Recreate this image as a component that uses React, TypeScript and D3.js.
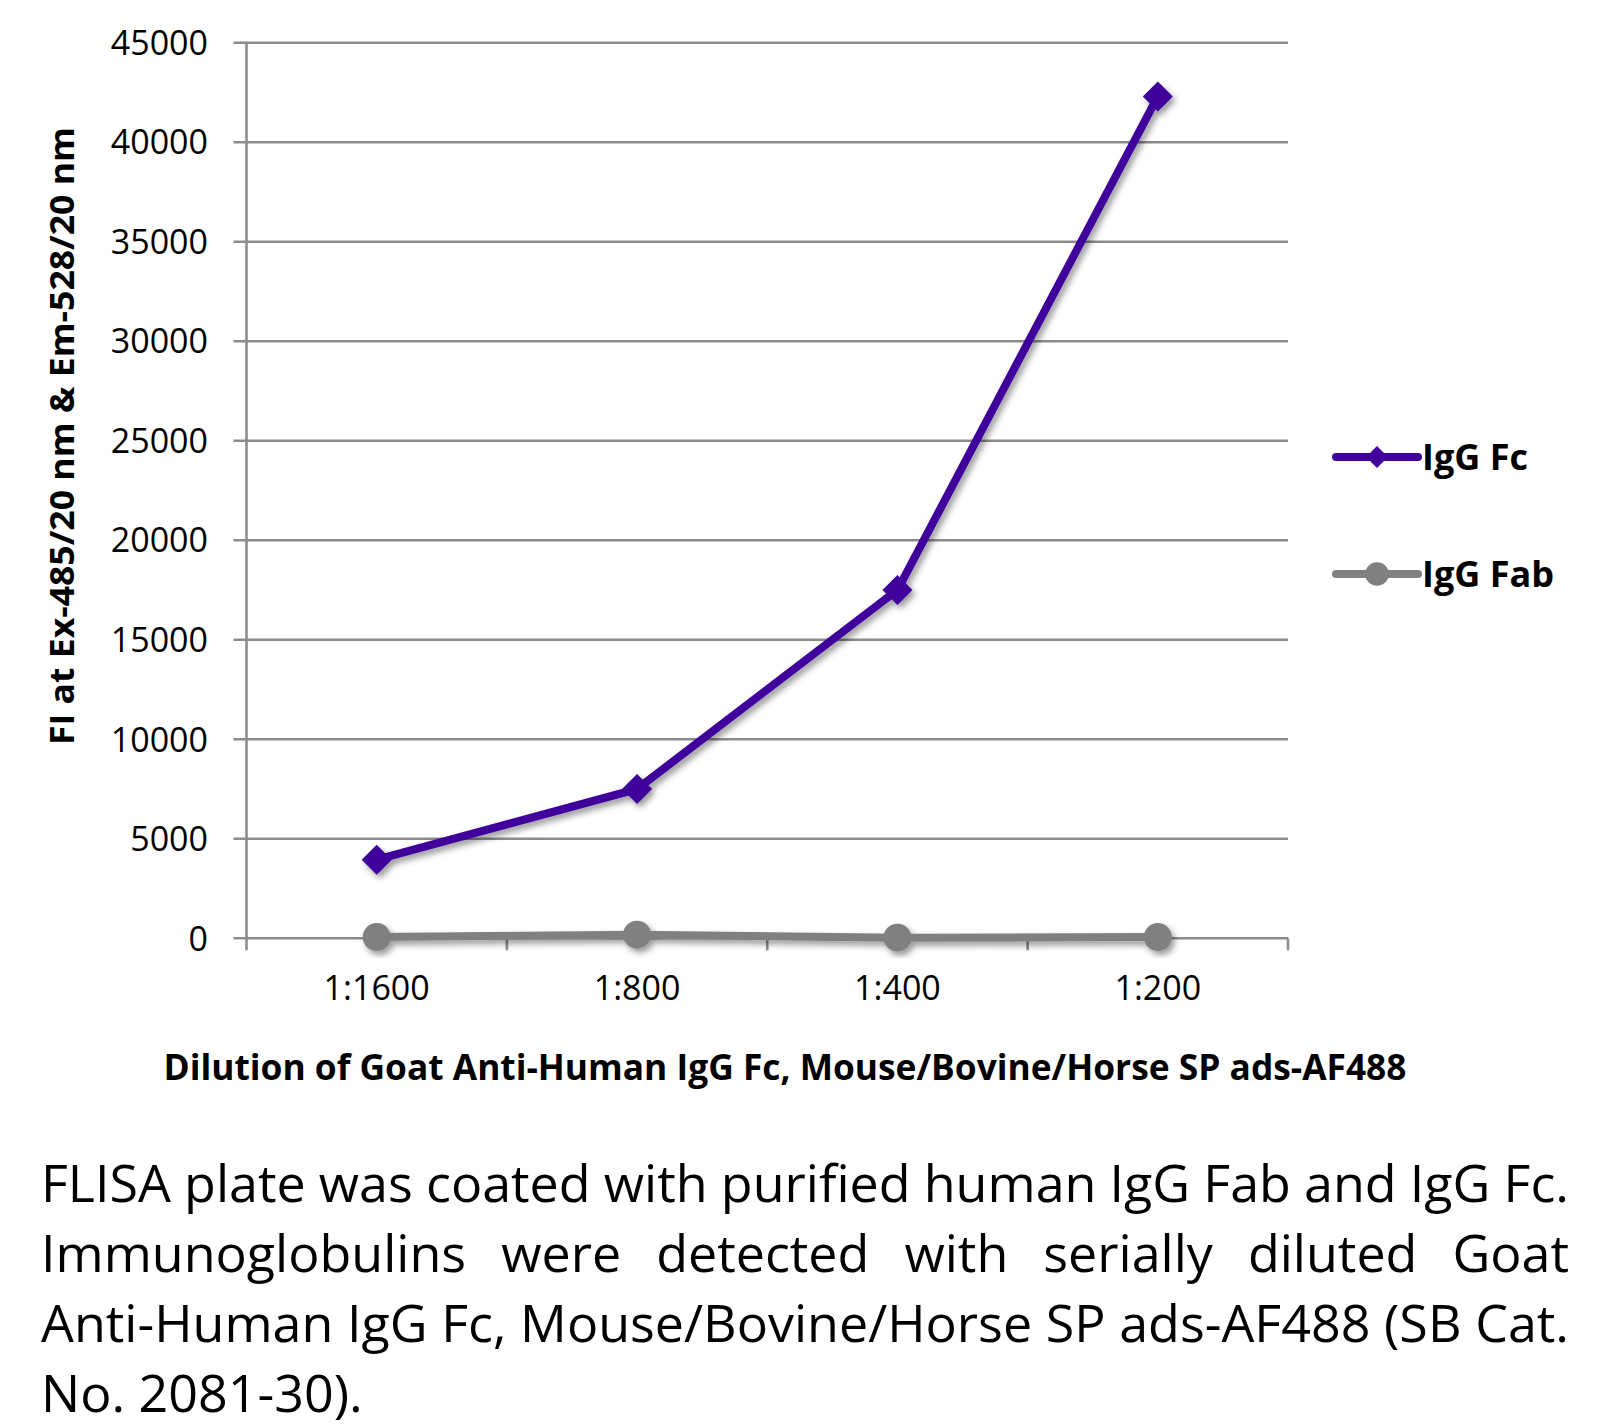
import * as d3 from "d3";
import React, { useEffect, useRef } from "react";

const width = 1608;
const height = 1428;

// chart data
const dilutions = ["1:1600", "1:800", "1:400", "1:200"];
const igGFc = [3950, 7500, 17500, 42300];
const igGFab = [60, 180, 30, 60];
const seriesNames = ["IgG Fc", "IgG Fab"];
const seriesColors = ["#41009c", "#808080"];
const yTicks = [0, 5000, 10000, 15000, 20000, 25000, 30000, 35000, 40000, 45000];

const yTitle = "FI at Ex-485/20 nm & Em-528/20 nm";
const xTitle = "Dilution of Goat Anti-Human IgG Fc, Mouse/Bovine/Horse SP ads-AF488";
const captionLines = [
  "FLISA plate was coated with purified human IgG Fab and IgG Fc.",
  "Immunoglobulins were detected with serially diluted Goat",
  "Anti-Human IgG Fc, Mouse/Bovine/Horse SP ads-AF488 (SB Cat.",
  "No. 2081-30).",
];

const font = "'Open Sans', 'Noto Sans', sans-serif";

export default function App() {
  const holderRef = useRef<HTMLDivElement | null>(null);

  useEffect(() => {
    const holder = holderRef.current;
    if (!holder || holder.hasChildNodes()) return;
    document.body.style.margin = "0";

    const svg = d3
      .select(holder)
      .append("svg")
      .attr("width", width)
      .attr("height", height)
      .style("display", "block")
      .style("background", "#fff")
      .attr("font-family", font);

    // drop shadow like the office chart
    const defs = svg.append("defs");
    defs
      .append("filter")
      .attr("id", "shadow")
      .attr("x", "-20%")
      .attr("y", "-20%")
      .attr("width", "140%")
      .attr("height", "140%")
      .append("feDropShadow")
      .attr("dx", 3)
      .attr("dy", 4)
      .attr("stdDeviation", 3)
      .attr("flood-color", "#000")
      .attr("flood-opacity", 0.4);

    const left = 246.5;
    const right = 1288;
    const top = 42.7;
    const bottom = 938.3;

    const x = d3.scaleBand().domain(dilutions).range([left, right]);
    const y = d3.scaleLinear().domain([0, 45000]).range([bottom, top]);
    const gridColor = "#8c8c8c";

    // gridlines + y ticks
    svg
      .append("g")
      .selectAll("line")
      .data(yTicks)
      .join("line")
      .attr("x1", left - 13)
      .attr("x2", right)
      .attr("y1", (d) => y(d))
      .attr("y2", (d) => y(d))
      .attr("stroke", gridColor)
      .attr("stroke-width", 2.6);

    svg
      .append("g")
      .selectAll("text")
      .data(yTicks)
      .join("text")
      .attr("x", 208)
      .attr("y", (d) => y(d))
      .attr("dy", "0.36em")
      .attr("text-anchor", "end")
      .attr("font-size", 34)
      .attr("fill", "#000")
      .text((d) => String(d));

    // y axis line
    svg
      .append("line")
      .attr("x1", left)
      .attr("x2", left)
      .attr("y1", top)
      .attr("y2", bottom + 12)
      .attr("stroke", gridColor)
      .attr("stroke-width", 2.6);

    // x ticks at band boundaries
    const bounds = dilutions.map((d) => (x(d) as number) + x.bandwidth());
    svg
      .append("g")
      .selectAll("line")
      .data(bounds)
      .join("line")
      .attr("x1", (d) => d)
      .attr("x2", (d) => d)
      .attr("y1", bottom)
      .attr("y2", bottom + 12)
      .attr("stroke", gridColor)
      .attr("stroke-width", 2.6);

    svg
      .append("g")
      .selectAll("text")
      .data(dilutions)
      .join("text")
      .attr("x", (d) => (x(d) as number) + x.bandwidth() / 2)
      .attr("y", 1000)
      .attr("text-anchor", "middle")
      .attr("font-size", 34)
      .attr("fill", "#000")
      .text((d) => d);

    const cx = (d: string) => (x(d) as number) + x.bandwidth() / 2;
    const line = d3
      .line<number>()
      .x((_, i) => cx(dilutions[i]))
      .y((v) => y(v));

    const diamond = "M0,-15L15,0L0,15L-15,0Z";

    // IgG Fab (gray circles)
    const gFab = svg.append("g").attr("filter", "url(#shadow)");
    gFab
      .append("path")
      .attr("d", line(igGFab))
      .attr("fill", "none")
      .attr("stroke", seriesColors[1])
      .attr("stroke-width", 8)
      .attr("stroke-linejoin", "round");
    gFab
      .selectAll("circle")
      .data(igGFab)
      .join("circle")
      .attr("cx", (_, i) => cx(dilutions[i]))
      .attr("cy", (v) => y(v))
      .attr("r", 14)
      .attr("fill", seriesColors[1]);

    // IgG Fc (purple diamonds)
    const gFc = svg.append("g").attr("filter", "url(#shadow)");
    gFc
      .append("path")
      .attr("d", line(igGFc))
      .attr("fill", "none")
      .attr("stroke", seriesColors[0])
      .attr("stroke-width", 8)
      .attr("stroke-linejoin", "round");
    gFc
      .selectAll("path.m")
      .data(igGFc)
      .join("path")
      .attr("class", "m")
      .attr("d", diamond)
      .attr("transform", (v, i) => `translate(${cx(dilutions[i])},${y(v)})`)
      .attr("fill", seriesColors[0]);

    // legend
    const legendY = [457, 574];
    const legend = svg
      .append("g")
      .selectAll("g")
      .data(seriesNames)
      .join("g")
      .attr("transform", (_, i) => `translate(1336,${legendY[i]})`);
    legend
      .append("line")
      .attr("x1", 0)
      .attr("x2", 82)
      .attr("stroke", (_, i) => seriesColors[i])
      .attr("stroke-width", 8)
      .attr("stroke-linecap", "round");
    legend
      .append("path")
      .attr("d", (_, i) => (i === 0 ? "M0,-11L11,0L0,11L-11,0Z" : d3.symbol(d3.symbolCircle, 440)()))
      .attr("transform", "translate(41,0)")
      .attr("fill", (_, i) => seriesColors[i]);
    legend
      .append("text")
      .attr("x", 86)
      .attr("dy", "0.36em")
      .attr("font-size", 36)
      .attr("font-weight", "bold")
      .attr("fill", "#000")
      .text((d) => d);

    // axis titles
    svg
      .append("text")
      .attr("transform", `translate(74,436) rotate(-90)`)
      .attr("text-anchor", "middle")
      .attr("font-size", 34)
      .attr("font-weight", "bold")
      .attr("textLength", 618)
      .attr("lengthAdjust", "spacingAndGlyphs")
      .attr("fill", "#000")
      .text(yTitle);

    svg
      .append("text")
      .attr("x", 785)
      .attr("y", 1080)
      .attr("text-anchor", "middle")
      .attr("font-size", 36)
      .attr("font-weight", "bold")
      .attr("textLength", 1243)
      .attr("lengthAdjust", "spacingAndGlyphs")
      .attr("fill", "#000")
      .text(xTitle);

    // caption, justified
    const capLeft = 41;
    const capRight = 1569;
    const capSize = 52;
    captionLines.forEach((ln, li) => {
      const baseY = 1202 + li * 70;
      const last = li === captionLines.length - 1;
      if (last) {
        svg
          .append("text")
          .attr("x", capLeft)
          .attr("y", baseY)
          .attr("font-size", capSize)
          .attr("fill", "#000")
          .text(ln);
        return;
      }
      const words = ln.split(" ");
      const g = svg.append("g");
      const nodes = words.map((w) =>
        g
          .append("text")
          .attr("y", baseY)
          .attr("font-size", capSize)
          .attr("fill", "#000")
          .text(w)
      );
      const widths = nodes.map((n) => (n.node() as SVGTextElement).getComputedTextLength());
      const total = d3.sum(widths);
      const gap = (capRight - capLeft - total) / (words.length - 1);
      if (gap < capSize * 0.2) {
        g.remove();
        svg
          .append("text")
          .attr("x", capLeft)
          .attr("y", baseY)
          .attr("font-size", capSize)
          .attr("fill", "#000")
          .attr("textLength", capRight - capLeft)
          .attr("lengthAdjust", "spacingAndGlyphs")
          .text(ln);
        return;
      }
      let pos = capLeft;
      nodes.forEach((n, i) => {
        n.attr("x", pos);
        pos += widths[i] + gap;
      });
    });
  }, []);

  return <div ref={holderRef} />;
}
